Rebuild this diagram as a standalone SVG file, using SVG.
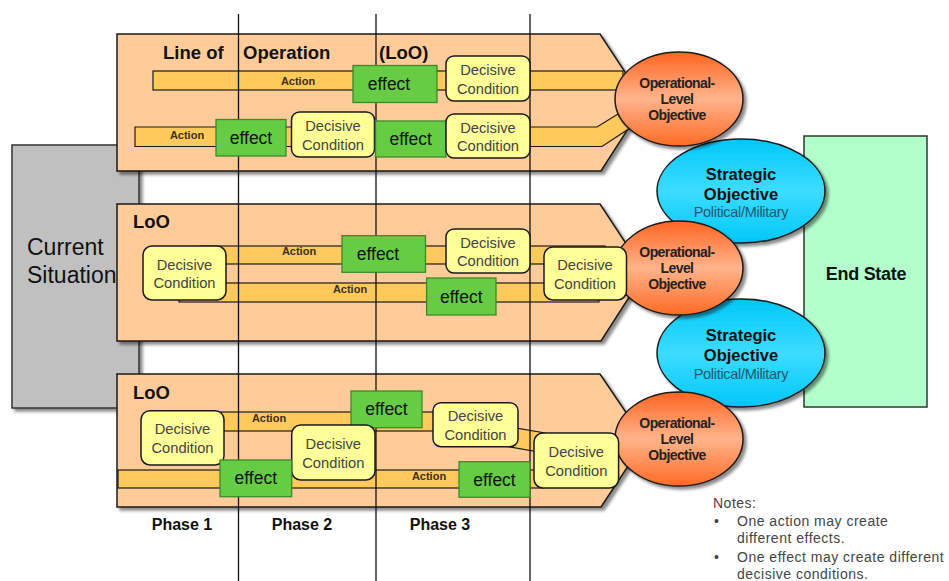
<svg xmlns="http://www.w3.org/2000/svg" width="949" height="581" viewBox="0 0 949 581">
<defs>
<style>
text{font-family:"Liberation Sans",Arial,sans-serif}
.band{fill:#ffcc99;stroke:#1a1a1a;stroke-width:1.5}
.bar{fill:#ffc95c;stroke:#1a1a1a;stroke-width:1.2}
.dc{fill:#ffff99;stroke:#1a1a1a;stroke-width:1.5}
.dct{font-size:14.7px;fill:#444;text-anchor:middle}
.eff{fill:#66cc44;stroke:#3a8a2a;stroke-width:1.3}
.efft{font-size:17.5px;fill:#111;text-anchor:middle}
.act{font-size:11px;font-weight:bold;fill:#3a3020;text-anchor:middle}
.loo{font-size:18.5px;font-weight:bold;fill:#111}
.phase{stroke:#111;stroke-width:1.3}
.pht{font-size:16px;font-weight:bold;fill:#111;text-anchor:middle}
.op{fill:url(#og);stroke:#1a1a1a;stroke-width:1.5}
.opt{font-size:14px;font-weight:bold;fill:#222;text-anchor:middle;letter-spacing:-0.6px}
.so{fill:url(#bg);stroke:#1a1a1a;stroke-width:1.5}
.sot{font-size:16.5px;font-weight:bold;fill:#111;text-anchor:middle}
.sos{font-size:14.5px;fill:#1d5a70;text-anchor:middle;letter-spacing:-0.3px}
.note{font-size:14px;fill:#444;letter-spacing:0.5px}
</style>
<linearGradient id="og" x1="0" y1="0" x2="0" y2="1">
<stop offset="0" stop-color="#ff6420"/>
<stop offset="0.5" stop-color="#ffb48c"/>
<stop offset="1" stop-color="#ff6a24"/>
</linearGradient>
<linearGradient id="bg" x1="0" y1="0" x2="0" y2="1">
<stop offset="0" stop-color="#00c8f8"/>
<stop offset="0.5" stop-color="#3ddcff"/>
<stop offset="1" stop-color="#00c8f8"/>
</linearGradient>
<filter id="sh" x="-10%" y="-10%" width="130%" height="130%">
<feDropShadow dx="3" dy="3" stdDeviation="1.5" flood-color="#000" flood-opacity="0.45"/>
</filter>
</defs>
<rect width="949" height="581" fill="#ffffff"/>

<g id="current-situation">
<rect x="12" y="145" width="127" height="263" fill="#c0c0c0" stroke="#333" stroke-width="1.5" filter="url(#sh)"/>
<text x="27" y="255" font-size="23px" fill="#111">Current</text>
<text x="27" y="283" font-size="23px" fill="#111">Situation</text>
</g>

<g id="end-state">
<rect x="804" y="136" width="123" height="271" fill="#b3ffcc" stroke="#333" stroke-width="1.5"/>
<text x="866" y="280" font-size="18px" font-weight="bold" fill="#111" text-anchor="middle" letter-spacing="-0.3">End State</text>
</g>

<g id="loo-1">
<polygon class="band" filter="url(#sh)" points="117,34 600,34 645,102.5 601,171 117,171"/>
<text class="loo" x="163" y="59">Line of</text>
<text class="loo" x="243" y="59">Operation</text>
<text class="loo" x="379" y="59">(LoO)</text>
</g>
<g id="loo-2">
<polygon class="band" filter="url(#sh)" points="117,204 600,204 645,272.5 601,341 117,341"/>
<text class="loo" x="133" y="228">LoO</text>
</g>
<g id="loo-3">
<polygon class="band" filter="url(#sh)" points="117,374 600,374 645,440.5 601,507 117,507"/>
<text class="loo" x="133" y="399">LoO</text>
</g>

<g id="connectors">
<rect class="bar" x="153" y="71" width="470" height="19"/>
<text class="act" x="298" y="85">Action</text>
<polygon class="bar" points="135,127 597,127 618,114 630,128 602,146.5 135,146.5"/>
<text class="act" x="187" y="139">Action</text>
<rect class="bar" x="200" y="246" width="405" height="18"/>
<text class="act" x="299" y="255">Action</text>
<rect class="bar" x="179" y="283" width="420" height="19"/>
<text class="act" x="350" y="293">Action</text>
<rect class="bar" x="200" y="412" width="240" height="19"/>
<text class="act" x="269" y="422">Action</text>
<polygon class="bar" points="505,426 545,433 545,453 505,446"/>
<rect class="bar" x="118" y="470" width="425" height="18"/>
<text class="act" x="429" y="480">Action</text>
</g>

<g id="phases">
<line class="phase" x1="238.5" y1="14" x2="238.5" y2="581"/>
<line class="phase" x1="376" y1="14" x2="376" y2="581"/>
<line class="phase" x1="530" y1="14" x2="530" y2="581"/>
<text class="pht" x="182" y="530">Phase 1</text>
<text class="pht" x="302" y="530">Phase 2</text>
<text class="pht" x="440" y="530">Phase 3</text>
</g>

<g id="strategic-1">
<ellipse class="so" filter="url(#sh)" cx="741" cy="191" rx="84" ry="52"/>
<text class="sot" x="741" y="180">Strategic</text>
<text class="sot" x="741" y="200">Objective</text>
<text class="sos" x="741" y="217">Political/Military</text>
</g>
<g id="strategic-2">
<ellipse class="so" filter="url(#sh)" cx="741" cy="353" rx="84" ry="54"/>
<text class="sot" x="741" y="341">Strategic</text>
<text class="sot" x="741" y="361">Objective</text>
<text class="sos" x="741" y="379">Political/Military</text>
</g>

<g id="operational-1">
<ellipse class="op" filter="url(#sh)" cx="679" cy="99" rx="64" ry="47"/>
<text class="opt" x="677" y="88">Operational-</text>
<text class="opt" x="677" y="104">Level</text>
<text class="opt" x="677" y="120">Objective</text>
</g>
<g id="operational-2">
<ellipse class="op" filter="url(#sh)" cx="679" cy="268" rx="64" ry="47"/>
<text class="opt" x="677" y="257">Operational-</text>
<text class="opt" x="677" y="273">Level</text>
<text class="opt" x="677" y="289">Objective</text>
</g>
<g id="operational-3">
<ellipse class="op" filter="url(#sh)" cx="679" cy="439" rx="64" ry="47"/>
<text class="opt" x="677" y="428">Operational-</text>
<text class="opt" x="677" y="444">Level</text>
<text class="opt" x="677" y="460">Objective</text>
</g>

<g id="l1-effect-a"><rect class="eff" x="353" y="65.5" width="84" height="37"/><text class="efft" x="389" y="90">effect</text></g>
<g id="l1-dc-a"><rect class="dc" x="446" y="56" width="84" height="45" rx="8"/><text class="dct" x="488" y="75">Decisive</text><text class="dct" x="488" y="93.5">Condition</text></g>
<g id="l1-effect-b"><rect class="eff" x="216" y="119.5" width="70" height="36.5"/><text class="efft" x="251" y="143.5">effect</text></g>
<g id="l1-dc-b"><rect class="dc" x="291.5" y="112" width="83" height="45" rx="8"/><text class="dct" x="333" y="131">Decisive</text><text class="dct" x="333" y="149.5">Condition</text></g>
<g id="l1-effect-c"><rect class="eff" x="375.5" y="121" width="70.5" height="36"/><text class="efft" x="410.7" y="145">effect</text></g>
<g id="l1-dc-c"><rect class="dc" x="446" y="114" width="84" height="44" rx="8"/><text class="dct" x="488" y="132.5">Decisive</text><text class="dct" x="488" y="151">Condition</text></g>

<g id="l2-dc-a"><rect class="dc" x="143" y="246" width="83" height="54" rx="9"/><text class="dct" x="184.5" y="269.5">Decisive</text><text class="dct" x="184.5" y="288">Condition</text></g>
<g id="l2-effect-a"><rect class="eff" x="342" y="235.7" width="83.5" height="36.6"/><text class="efft" x="378" y="260">effect</text></g>
<g id="l2-dc-b"><rect class="dc" x="446" y="229" width="84" height="44" rx="8"/><text class="dct" x="488" y="247.5">Decisive</text><text class="dct" x="488" y="266">Condition</text></g>
<g id="l2-effect-b"><rect class="eff" x="426.6" y="278" width="69.4" height="37"/><text class="efft" x="461.3" y="302.5">effect</text></g>
<g id="l2-dc-c"><rect class="dc" x="544" y="247" width="82.5" height="53" rx="9"/><text class="dct" x="585" y="270">Decisive</text><text class="dct" x="585" y="288.5">Condition</text></g>

<g id="l3-dc-a"><rect class="dc" x="141" y="410.7" width="83" height="54.3" rx="9"/><text class="dct" x="182.5" y="434.3">Decisive</text><text class="dct" x="182.5" y="452.8">Condition</text></g>
<g id="l3-effect-a"><rect class="eff" x="351" y="391" width="71" height="36.7"/><text class="efft" x="386.5" y="415">effect</text></g>
<g id="l3-dc-b"><rect class="dc" x="291.7" y="425" width="83.3" height="55" rx="9"/><text class="dct" x="333.3" y="449">Decisive</text><text class="dct" x="333.3" y="467.5">Condition</text></g>
<g id="l3-dc-c"><rect class="dc" x="433" y="402.7" width="85" height="44" rx="8"/><text class="dct" x="475.5" y="421">Decisive</text><text class="dct" x="475.5" y="439.5">Condition</text></g>
<g id="l3-dc-d"><rect class="dc" x="534" y="433" width="84.6" height="55" rx="9"/><text class="dct" x="576.3" y="457">Decisive</text><text class="dct" x="576.3" y="475.5">Condition</text></g>
<g id="l3-effect-b"><rect class="eff" x="220" y="460" width="71.7" height="36.7"/><text class="efft" x="255.8" y="484">effect</text></g>
<g id="l3-effect-c"><rect class="eff" x="459" y="461.7" width="71" height="35.6"/><text class="efft" x="494.5" y="485.5">effect</text></g>

<g id="notes">
<text class="note" x="713" y="508">Notes:</text>
<text class="note" x="714" y="526">•</text>
<text class="note" x="737" y="526">One action may create</text>
<text class="note" x="737" y="543">different effects.</text>
<text class="note" x="714" y="562">•</text>
<text class="note" x="737" y="562">One effect may create different</text>
<text class="note" x="737" y="579">decisive conditions.</text>
</g>
</svg>
